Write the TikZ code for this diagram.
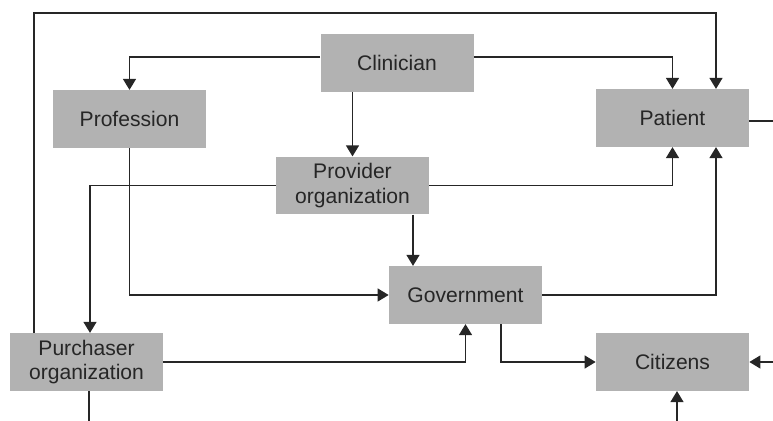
\documentclass[tikz,border=0pt]{standalone}
\usepackage{fontspec}
\setmainfont{Liberation Sans}
\usepackage{tikz}
\usetikzlibrary{arrows.meta,positioning,calc}

\begin{document}
\begin{tikzpicture}[x=0.2mm,y=-0.2mm,
  box/.style={fill=black!30,text=black!85,minimum width=30.6mm,minimum height=11.5mm,
    inner sep=0pt,align=center,font=\fontsize{12}{14}\selectfont},
  link/.style={draw=black!85,line width=0.75pt},
  arr/.style={link,-{Triangle[length=2.2mm,width=2.6mm]}}]
\useasboundingbox (0,0) rectangle (773,421);
\node[box] (clin)   at (397,63)    {Clinician};
\node[box] (prof)   at (129.5,119) {Profession};
\node[box] (pat)    at (672.5,118) {Patient};
\node[box] (prov)   at (352.5,185.5) {Provider\\organization};
\node[box] (gov)    at (465.5,295) {Government};
\node[box] (purch)  at (86.5,362)  {Purchaser\\organization};
\node[box] (cit)    at (672.5,362) {Citizens};
% loose ends at the edge of the figure
\coordinate (patout)  at (773,121);
\coordinate (citin)   at (773,362);
\coordinate (citbot)  at (677,421);
\coordinate (purchout) at (89,421);
\draw[arr] (purch.north -| 34,0) |- (716,13) -- (pat.north -| 716,0);
\draw[arr] ([yshift=1.2mm]clin.west) -| (prof.north);
\draw[arr] ([yshift=1.2mm]clin.east) -| (pat.north);
\draw[arr] (clin.south -| prov.north) -- (prov.north);
\draw[arr] (prov.east) -| (pat.south);
\draw[arr] (prov.west) -| (purch.north -| 90,0);
\draw[arr] (prov.south -| 413,0) -- (gov.north -| 413,0);
\draw[arr] (prof.south) |- (gov.west);
\draw[arr] (gov.east) -| (pat.south -| 716,0);
\draw[arr] (gov.south -| 501,0) |- (cit.west);
\draw[arr] (purch.east) -| (gov.south);
\draw[link] (purch.south -| purchout) -- (purchout);
\draw[link] (pat.east |- patout) -- (patout);
\draw[arr] (citin) -- (cit.east);
\draw[arr] (citbot) -- (cit.south -| citbot);
\end{tikzpicture}
\end{document}
